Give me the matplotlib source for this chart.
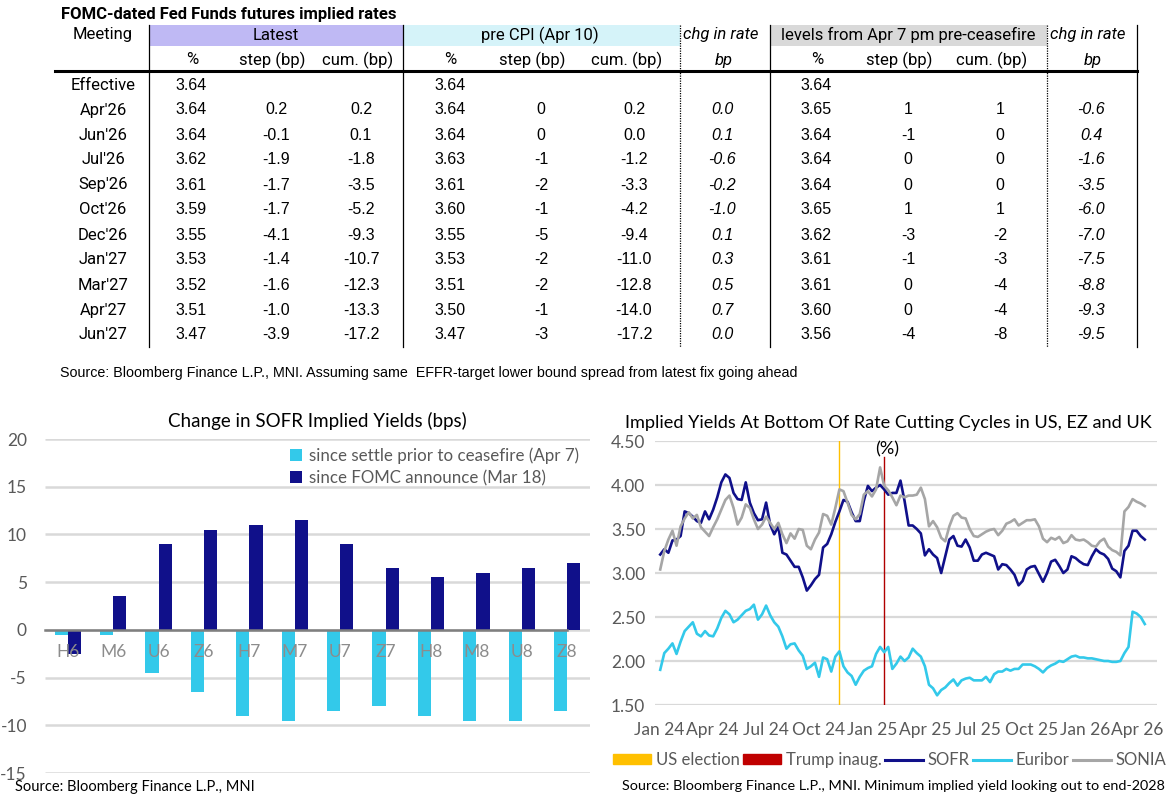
import matplotlib
matplotlib.use("Agg")
import matplotlib.pyplot as plt
import matplotlib.dates as mdates
from matplotlib.patches import Rectangle, Patch
from matplotlib.lines import Line2D
import numpy as np
import pandas as pd

plt.rcParams["axes.unicode_minus"] = False

# ---- table data ----
meetings = ["Effective", "Apr'26", "Jun'26", "Jul'26", "Sep'26", "Oct'26",
            "Dec'26", "Jan'27", "Mar'27", "Apr'27", "Jun'27"]
latest_pct = [3.64, 3.64, 3.64, 3.62, 3.61, 3.59, 3.55, 3.53, 3.52, 3.51, 3.47]
latest_step = [None, 0.2, -0.1, -1.9, -1.7, -1.7, -4.1, -1.4, -1.6, -1.0, -3.9]
latest_cum = [None, 0.2, 0.1, -1.8, -3.5, -5.2, -9.3, -10.7, -12.3, -13.3, -17.2]
precpi_pct = [3.64, 3.64, 3.64, 3.63, 3.61, 3.60, 3.55, 3.53, 3.51, 3.50, 3.47]
precpi_step = [None, 0, 0, -1, -2, -1, -5, -2, -2, -1, -3]
precpi_cum = [None, 0.2, 0.0, -1.2, -3.3, -4.2, -9.4, -11.0, -12.8, -14.0, -17.2]
chg_precpi = [None, 0.0, 0.1, -0.6, -0.2, -1.0, 0.1, 0.3, 0.5, 0.7, 0.0]
lvl_pct = [3.64, 3.65, 3.64, 3.64, 3.64, 3.65, 3.62, 3.61, 3.61, 3.60, 3.56]
lvl_step = [None, 1, -1, 0, 0, 1, -3, -1, 0, 0, -4]
lvl_cum = [None, 1, 0, 0, 0, 1, -2, -3, -4, -4, -8]
chg_lvl = [None, -0.6, 0.4, -1.6, -3.5, -6.0, -7.0, -7.5, -8.8, -9.3, -9.5]

# ---- bar chart data ----
contracts = ["H6", "M6", "U6", "Z6", "H7", "M7", "U7", "Z7", "H8", "M8", "U8", "Z8"]
since_ceasefire = [-0.5, -0.5, -4.5, -6.5, -9.0, -9.5, -8.5, -8.0, -9.0, -9.5, -9.5, -8.5]
since_fomc = [-2.5, 3.5, 9.0, 10.5, 11.0, 11.5, 9.0, 6.5, 5.5, 6.0, 6.5, 7.0]

# ---- line chart data (weekly readings) ----
weeks = pd.date_range("2024-01-02", periods=120, freq="7D")
sofr = [3.21, 3.27, 3.23, 3.37, 3.38, 3.42, 3.70, 3.68, 3.64, 3.59,
        3.57, 3.70, 3.61, 3.72, 3.86, 4.03, 4.12, 4.08, 3.91, 3.84,
        3.83, 4.03, 3.80, 3.68, 3.60, 3.61, 3.80, 3.55, 3.44, 3.53,
        3.23, 3.21, 3.14, 3.07, 3.07, 2.95, 2.80, 2.86, 2.93, 2.98,
        3.29, 3.33, 3.44, 3.58, 3.70, 3.83, 3.81, 3.69, 3.59, 3.59,
        3.82, 3.99, 3.93, 3.97, 4.00, 3.95, 3.89, 3.91, 3.91, 4.05,
        3.82, 3.54, 3.54, 3.50, 3.45, 3.20, 3.27, 3.21, 3.17, 3.00,
        3.19, 3.38, 3.42, 3.31, 3.30, 3.38, 3.29, 3.14, 3.14, 3.21,
        3.23, 3.21, 3.19, 3.04, 3.10, 3.09, 3.04, 2.98, 2.86, 2.91,
        3.04, 3.07, 3.08, 2.99, 2.90, 3.00, 3.13, 3.15, 3.08, 3.00,
        3.04, 3.19, 3.17, 3.13, 3.10, 3.09, 3.19, 3.27, 3.23, 3.21,
        3.16, 3.05, 3.02, 2.95, 3.25, 3.31, 3.48, 3.48, 3.42, 3.38]
euribor = [1.90, 2.09, 2.14, 2.20, 2.08, 2.22, 2.34, 2.39, 2.44, 2.31,
           2.28, 2.34, 2.29, 2.28, 2.37, 2.49, 2.57, 2.53, 2.44, 2.47,
           2.52, 2.57, 2.59, 2.64, 2.47, 2.53, 2.63, 2.52, 2.44, 2.39,
           2.28, 2.14, 2.19, 2.20, 2.12, 2.06, 1.91, 1.94, 1.98, 1.82,
           2.04, 2.02, 1.88, 2.05, 2.11, 1.94, 1.87, 1.83, 1.73, 1.82,
           1.89, 1.92, 1.94, 2.08, 2.16, 2.10, 2.16, 1.91, 1.97, 2.05,
           2.00, 2.04, 2.14, 2.09, 2.05, 1.94, 1.73, 1.69, 1.61, 1.67,
           1.70, 1.75, 1.79, 1.72, 1.78, 1.80, 1.81, 1.78, 1.78, 1.78,
           1.82, 1.76, 1.85, 1.88, 1.88, 1.91, 1.89, 1.91, 1.91, 1.96,
           1.96, 1.96, 1.94, 1.91, 1.87, 1.92, 1.95, 1.97, 2.00, 1.99,
           2.02, 2.05, 2.06, 2.04, 2.04, 2.03, 2.03, 2.02, 2.01, 2.00,
           2.00, 1.99, 1.99, 2.00, 2.09, 2.16, 2.56, 2.54, 2.50, 2.42]
sonia = [3.04, 3.25, 3.38, 3.48, 3.31, 3.53, 3.62, 3.69, 3.62, 3.66,
         3.52, 3.47, 3.42, 3.52, 3.61, 3.72, 3.83, 3.88, 3.74, 3.55,
         3.63, 3.78, 3.74, 3.61, 3.50, 3.55, 3.64, 3.57, 3.50, 3.57,
         3.44, 3.34, 3.45, 3.39, 3.50, 3.49, 3.31, 3.27, 3.38, 3.46,
         3.67, 3.65, 3.55, 3.74, 3.95, 3.93, 3.80, 3.66, 3.61, 3.67,
         3.89, 3.93, 3.87, 3.95, 4.20, 3.99, 3.94, 3.86, 3.77, 3.88,
         3.86, 3.88, 3.88, 3.89, 3.97, 3.84, 3.53, 3.59, 3.52, 3.40,
         3.36, 3.53, 3.65, 3.68, 3.63, 3.62, 3.50, 3.42, 3.41, 3.44,
         3.47, 3.49, 3.50, 3.43, 3.48, 3.56, 3.58, 3.61, 3.54, 3.57,
         3.60, 3.60, 3.61, 3.53, 3.39, 3.35, 3.40, 3.38, 3.41, 3.34,
         3.36, 3.43, 3.38, 3.37, 3.38, 3.35, 3.31, 3.30, 3.36, 3.39,
         3.30, 3.26, 3.24, 3.20, 3.70, 3.75, 3.84, 3.81, 3.79, 3.76]
event_names = ["US election", "Trump inaug."]
event_dates = pd.to_datetime(["2024-11-05", "2025-01-20"])

W, H = 1175, 799
NAVY = "#10108a"
CYAN = "#33c9ea"
GREY = "#a6a6a6"
TXT = "#595959"
GRID = "#d9d9d9"
NUMF = "Liberation Sans"
LBLF = ["Liberation Sans Narrow", "Roboto"]
CHF = ["Lato", "DejaVu Sans"]


def fx(x):
    return x / W


def fy(y):
    return 1 - y / H


fig = plt.figure(figsize=(W / 100, H / 100), dpi=100)

# ================= table =================
fig.text(fx(61), fy(15), "FOMC-dated Fed Funds futures implied rates", family=LBLF,
         fontsize=12, fontweight="bold", va="center", ha="left")

# header bands
for x0, x1, col in [(149, 403, "#bfb9f4"), (403, 680, "#d5f3f9"), (770, 1047, "#d9d9d9")]:
    fig.add_artist(Rectangle((fx(x0), fy(46)), fx(x1) - fx(x0), fy(25) - fy(46),
                             transform=fig.transFigure, color=col, lw=0, zorder=0))

hdr1 = [(103, "Meeting", "normal"), (276, "Latest", "normal"), (540, "pre CPI (Apr 10)", "normal"),
        (721, "chg in rate", "italic"), (908, "levels from Apr 7 pm pre-ceasefire", "normal"),
        (1088, "chg in rate", "italic")]
for x, s, st in hdr1:
    fig.text(fx(x), fy(35), s, family=LBLF, fontsize=12, style=st, ha="center", va="center")

hdr2 = [(192, "%", "normal"), (272, "step (bp)", "normal"), (358, "cum. (bp)", "normal"),
        (450, "%", "normal"), (532, "step (bp)", "normal"), (627, "cum. (bp)", "normal"),
        (724, "bp", "italic"), (817, "%", "normal"), (899, "step (bp)", "normal"),
        (992, "cum. (bp)", "normal"), (1093, "bp", "italic")]
for x, s, st in hdr2:
    fig.text(fx(x), fy(60), s, family=LBLF, fontsize=12, style=st, ha="center", va="center")

fig.add_artist(Line2D([fx(55), fx(1137)], [fy(71), fy(71)], transform=fig.transFigure,
                      color="black", lw=2.2))
for x, ls in [(149, "-"), (403, "-"), (680, (0, (1, 1))), (770, "-"), (1047, (0, (1, 1))), (1137, "-")]:
    fig.add_artist(Line2D([fx(x), fx(x)], [fy(25), fy(347)], transform=fig.transFigure,
                          color="black", lw=0.9, linestyle=ls))


def fmt(v, d):
    if v is None:
        return ""
    if d == 0:
        return "%d" % v
    return "%.*f" % (d, v)


columns = [(191, latest_pct, 2, "normal"), (276, latest_step, 1, "normal"),
           (361, latest_cum, 1, "normal"), (450, precpi_pct, 2, "normal"),
           (541, precpi_step, 0, "normal"), (634, precpi_cum, 1, "normal"),
           (722, chg_precpi, 1, "italic"), (816, lvl_pct, 2, "normal"),
           (908, lvl_step, 0, "normal"), (1000, lvl_cum, 0, "normal"),
           (1091, chg_lvl, 1, "italic")]
for i, m in enumerate(meetings):
    y = 85 + 25 * i
    fig.text(fx(103), fy(y), m, family=LBLF, fontsize=12, ha="center", va="center")
    for x, vals, d, st in columns:
        fig.text(fx(x), fy(y), fmt(vals[i], d), family=NUMF, fontsize=11.5, style=st,
                 ha="center", va="center")

fig.text(fx(60), fy(373), "Source: Bloomberg Finance L.P., MNI. Assuming same  EFFR-target lower "
         "bound spread from latest fix going ahead", family=NUMF, fontsize=10.3, va="center")

# ================= bar chart =================
ax = fig.add_axes([fx(45), fy(773), fx(590) - fx(45), fy(439) - fy(773)])
xs = np.arange(len(contracts))
bw = 0.29
yticks = list(range(-15, 21, 5))
ax.hlines(yticks, -0.5, len(contracts) - 0.5, color=GRID, lw=1.8, zorder=0)
ax.bar(xs - bw / 2, since_ceasefire, bw, color=CYAN, zorder=1,
       label="since settle prior to ceasefire (Apr 7)")
ax.bar(xs + bw / 2, since_fomc, bw, color=NAVY, zorder=1, label="since FOMC announce (Mar 18)")
ax.set_xlim(-0.5, len(contracts) - 0.5)
ax.set_ylim(-15, 20)
ax.set_yticks(yticks)
for s in ["top", "right", "left"]:
    ax.spines[s].set_visible(False)
ax.spines["bottom"].set_position(("data", 0))
ax.spines["bottom"].set_color("#7f7f7f")
ax.spines["bottom"].set_linewidth(1.8)
ax.spines["bottom"].set_bounds(-0.5, len(contracts) - 1)
ax.set_xticks(xs)
ax.set_xticklabels(contracts, family=CHF, fontsize=12.5, color="#8c8c8c")
ax.tick_params(axis="x", length=0, pad=10)
ax.tick_params(axis="y", length=0, pad=13, labelsize=12.5, labelcolor=TXT)
for t in ax.get_yticklabels():
    t.set_family(CHF)
ax.set_title("Change in SOFR Implied Yields (bps)", family=CHF, fontsize=13.5, pad=9)
leg = ax.legend(loc="upper right", bbox_to_anchor=(0.995, 1.0), frameon=False,
                prop={"family": CHF, "size": 12.2}, handlelength=0.7, handleheight=0.7,
                handletextpad=0.4, labelspacing=0.35, borderaxespad=0.1)
for t in leg.get_texts():
    t.set_color(TXT)
fig.text(fx(15), fy(787), "Source: Bloomberg Finance L.P., MNI", family=CHF, fontsize=10.5,
         va="center")

# ================= line chart =================
ax2 = fig.add_axes([fx(655), fy(705), fx(1157) - fx(655), fy(441) - fy(705)])
ax2.plot(weeks, sofr, color=NAVY, lw=1.9, label="SOFR", zorder=3)
ax2.plot(weeks, euribor, color=CYAN, lw=1.9, label="Euribor", zorder=3)
ax2.plot(weeks, sonia, color=GREY, lw=1.9, label="SONIA", zorder=4)
ax2.axvline(event_dates[0], color="#ffc000", lw=1.0, zorder=2)
ax2.axvline(event_dates[1], color="#b00000", lw=1.0, ymax=0.94, zorder=2)
ax2.set_ylim(1.5, 4.5)
ax2.set_yticks(np.arange(1.5, 4.51, 0.5))
ax2.yaxis.set_major_formatter(matplotlib.ticker.FormatStrFormatter("%.2f"))
ax2.set_xlim(pd.Timestamp("2023-12-24"), pd.Timestamp("2026-05-05"))
ax2.xaxis.set_major_locator(mdates.MonthLocator(bymonth=[1, 4, 7, 10]))
ax2.xaxis.set_major_formatter(mdates.DateFormatter("%b %y"))
ax2.grid(axis="y", color=GRID, lw=1.6)
ax2.set_axisbelow(True)
for s in ax2.spines.values():
    s.set_visible(False)
ax2.tick_params(axis="both", length=0, labelsize=12.5, labelcolor=TXT)
ax2.tick_params(axis="y", pad=7)
ax2.tick_params(axis="x", pad=12)
for t in ax2.get_xticklabels() + ax2.get_yticklabels():
    t.set_family(CHF)
fig.text(fx(888), fy(423), "Implied Yields At Bottom Of Rate Cutting Cycles in US, EZ and UK",
         family=CHF, fontsize=13.1, ha="center", va="center")
fig.text(fx(887), fy(449), "(%)", family=CHF, fontsize=13.1, ha="center", va="center")

handles = [Patch(color="#ffc000", label=event_names[0]), Patch(color="#c00000", label=event_names[1]),
           Line2D([], [], color=NAVY, lw=2.2, label="SOFR"),
           Line2D([], [], color=CYAN, lw=2.2, label="Euribor"),
           Line2D([], [], color=GREY, lw=2.2, label="SONIA")]
leg2 = fig.legend(handles=handles, loc="center left", bbox_to_anchor=(fx(613), fy(760)), ncol=5,
                  frameon=False, prop={"family": CHF, "size": 12}, handlelength=2.3,
                  handleheight=0.5, handletextpad=0.25, columnspacing=0.22, borderaxespad=0,
                  borderpad=0)
for t in leg2.get_texts():
    t.set_color(TXT)
fig.text(fx(622), fy(786), "Source: Bloomberg Finance L.P., MNI. Minimum implied yield looking "
         "out to end-2028", family=CHF, fontsize=10.4, va="center")

fig.savefig("out.png", dpi=100)
